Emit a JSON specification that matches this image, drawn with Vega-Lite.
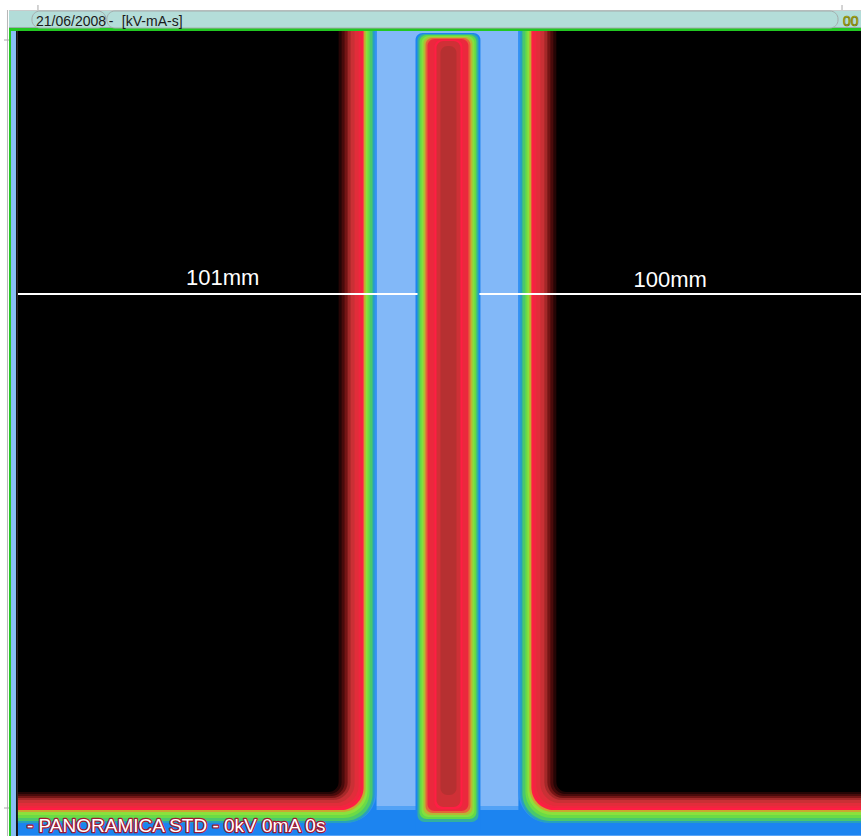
{
"$schema": "https://vega.github.io/schema/vega-lite/v6.json",
"width": 862, "height": 836,
"autosize": {"type": "fit", "contains": "padding"},
"padding": 0,
"background": "#ffffff",
"config": {"view": {"stroke": null}},
"datasets": {
"chrome": [
{"part": "margin", "x1": 7, "x2": 8, "y1": 10, "y2": 836},
{"part": "bar", "x1": 9, "x2": 862, "y1": 10, "y2": 28},
{"part": "barTop", "x1": 9, "x2": 862, "y1": 10, "y2": 11},
{"part": "barBottom", "x1": 9, "x2": 862, "y1": 27, "y2": 28},
{"part": "green", "x1": 9, "x2": 862, "y1": 28, "y2": 31},
{"part": "green", "x1": 9, "x2": 11, "y1": 28, "y2": 836},
{"part": "blue", "x1": 11, "x2": 16, "y1": 31, "y2": 836},
{"part": "dark", "x1": 16, "x2": 18, "y1": 31, "y2": 836}
],
"base": [
{"x1": 18, "x2": 862, "y1": 31, "y2": 836, "v": 0.67},
{"x1": 377, "x2": 519, "y1": 31, "y2": 806, "v": 0.80},
{"x1": 377, "x2": 519, "y1": 806, "y2": 810, "v": 0.74}
],
"outer": [
{"side": "L", "x1": 18, "x2": 377, "y1": 31, "y2": 823, "v": 0.70},
{"side": "L", "x1": 18, "x2": 375, "y1": 31, "y2": 823, "v": 0.63},
{"side": "L", "x1": 18, "x2": 373, "y1": 31, "y2": 821, "v": 0.58},
{"side": "L", "x1": 18, "x2": 370, "y1": 31, "y2": 818, "v": 0.54},
{"side": "L", "x1": 18, "x2": 368, "y1": 31, "y2": 815, "v": 0.50},
{"side": "L", "x1": 18, "x2": 366, "y1": 31, "y2": 812, "v": 0.46},
{"side": "L", "x1": 18, "x2": 364, "y1": 31, "y2": 810, "v": 0.42},
{"side": "L", "x1": 18, "x2": 362, "y1": 31, "y2": 808, "v": 0.39},
{"side": "L", "x1": 18, "x2": 359, "y1": 31, "y2": 806, "v": 0.36},
{"side": "L", "x1": 18, "x2": 355, "y1": 31, "y2": 803, "v": 0.32},
{"side": "L", "x1": 18, "x2": 351, "y1": 31, "y2": 800, "v": 0.26},
{"side": "L", "x1": 18, "x2": 348, "y1": 31, "y2": 798, "v": 0.19},
{"side": "L", "x1": 18, "x2": 345, "y1": 31, "y2": 796, "v": 0.12},
{"side": "L", "x1": 18, "x2": 342, "y1": 31, "y2": 794, "v": 0.06},
{"side": "L", "x1": 18, "x2": 339, "y1": 31, "y2": 792, "v": 0},
{"side": "R", "x1": 519, "x2": 862, "y1": 31, "y2": 823, "v": 0.70},
{"side": "R", "x1": 521, "x2": 862, "y1": 31, "y2": 823, "v": 0.63},
{"side": "R", "x1": 523, "x2": 862, "y1": 31, "y2": 821, "v": 0.58},
{"side": "R", "x1": 526, "x2": 862, "y1": 31, "y2": 818, "v": 0.54},
{"side": "R", "x1": 528, "x2": 862, "y1": 31, "y2": 815, "v": 0.50},
{"side": "R", "x1": 530, "x2": 862, "y1": 31, "y2": 812, "v": 0.46},
{"side": "R", "x1": 532, "x2": 862, "y1": 31, "y2": 810, "v": 0.42},
{"side": "R", "x1": 534, "x2": 862, "y1": 31, "y2": 808, "v": 0.39},
{"side": "R", "x1": 537, "x2": 862, "y1": 31, "y2": 806, "v": 0.36},
{"side": "R", "x1": 541, "x2": 862, "y1": 31, "y2": 803, "v": 0.32},
{"side": "R", "x1": 545, "x2": 862, "y1": 31, "y2": 800, "v": 0.26},
{"side": "R", "x1": 548, "x2": 862, "y1": 31, "y2": 798, "v": 0.19},
{"side": "R", "x1": 551, "x2": 862, "y1": 31, "y2": 796, "v": 0.12},
{"side": "R", "x1": 554, "x2": 862, "y1": 31, "y2": 794, "v": 0.06},
{"side": "R", "x1": 557, "x2": 862, "y1": 31, "y2": 792, "v": 0}
],
"center": [
{"x1": 416, "x2": 481, "y1": 33, "y2": 836, "v": 0.67},
{"x1": 418, "x2": 479, "y1": 34, "y2": 822, "v": 0.61},
{"x1": 420, "x2": 477, "y1": 35, "y2": 819, "v": 0.55},
{"x1": 422, "x2": 475, "y1": 36, "y2": 817, "v": 0.51},
{"x1": 424, "x2": 473, "y1": 37, "y2": 815, "v": 0.47},
{"x1": 426, "x2": 471, "y1": 38, "y2": 813, "v": 0.44},
{"x1": 428, "x2": 469, "y1": 39, "y2": 811, "v": 0.38},
{"x1": 435, "x2": 463, "y1": 40, "y2": 809, "v": 0.42},
{"x1": 437, "x2": 461, "y1": 41, "y2": 807, "v": 0.33},
{"x1": 441, "x2": 457, "y1": 46, "y2": 795, "v": 0.29},
{"x1": 18, "x2": 862, "y1": 835, "y2": 836, "v": 0.75}
]
},
"layer": [
{
"data": {"name": "chrome"},
"mark": {"type": "rect"},
"encoding": {
"x": {"field": "x1", "type": "quantitative", "scale": {"domain": [0, 862], "nice": false, "zero": false}, "axis": null},
"x2": {"field": "x2"},
"y": {"field": "y1", "type": "quantitative", "scale": {"domain": [0, 836], "reverse": true, "nice": false, "zero": false}, "axis": null},
"y2": {"field": "y2"},
"fill": {"field": "part", "type": "nominal", "legend": null,
"scale": {"domain": ["margin", "bar", "barTop", "barBottom", "green", "blue", "dark"],
"range": ["#b8b8b8", "#b2dcd8", "#c8cccc", "#98acaa", "#22c822", "#88bef6", "#141414"]}}
}
},
{
"data": {"values": [
{"x1": 32, "x2": 106, "y1": 11, "y2": 28},
{"x1": 107, "x2": 839, "y1": 11, "y2": 28}
]},
"mark": {"type": "rect", "cornerRadius": 8, "fill": "#b4ddd9", "stroke": "#a4acac", "strokeWidth": 1},
"encoding": {
"x": {"field": "x1", "type": "quantitative", "axis": null},
"x2": {"field": "x2"},
"y": {"field": "y1", "type": "quantitative", "axis": null},
"y2": {"field": "y2"}
}
},
{
"data": {"values": [
{"x1": 4, "x2": 9, "y1": 40, "y2": 40},
{"x1": 4, "x2": 9, "y1": 808, "y2": 808},
{"x1": 38, "x2": 38, "y1": 5, "y2": 10},
{"x1": 843, "x2": 843, "y1": 5, "y2": 10}
]},
"mark": {"type": "rule", "stroke": "#a8a8a8", "strokeWidth": 1},
"encoding": {
"x": {"field": "x1", "type": "quantitative", "axis": null},
"x2": {"field": "x2"},
"y": {"field": "y1", "type": "quantitative", "axis": null},
"y2": {"field": "y2"}
}
},
{
"data": {"name": "base"},
"mark": {"type": "rect"},
"encoding": {
"x": {"field": "x1", "type": "quantitative", "axis": null},
"x2": {"field": "x2"},
"y": {"field": "y1", "type": "quantitative", "axis": null},
"y2": {"field": "y2"},
"color": {"field": "v", "type": "quantitative", "legend": null,
"scale": {"type": "linear", "interpolate": "rgb",
"domain": [0, 0.1, 0.2, 0.28, 0.35, 0.42, 0.46, 0.5, 0.56, 0.62, 0.67, 0.73, 0.8],
"range": ["#000000", "#3c0808", "#7a1616", "#b03030", "#dc3038", "#ff1e44", "#c8a830", "#8ce03c", "#5ad84a", "#2aa8b0", "#1c84f0", "#4a9ef6", "#82b8f8"]}}
}
},
{
"data": {"name": "outer"},
"transform": [{"filter": "datum.side == 'L'"}],
"mark": {"type": "rect", "cornerRadiusBottomRight": {"expr": "10 + 30 * datum.v"}},
"encoding": {
"x": {"field": "x1", "type": "quantitative", "axis": null},
"x2": {"field": "x2"},
"y": {"field": "y1", "type": "quantitative", "axis": null},
"y2": {"field": "y2"},
"color": {"field": "v", "type": "quantitative", "legend": null}
}
},
{
"data": {"name": "outer"},
"transform": [{"filter": "datum.side == 'R'"}],
"mark": {"type": "rect", "cornerRadiusBottomLeft": {"expr": "10 + 30 * datum.v"}},
"encoding": {
"x": {"field": "x1", "type": "quantitative", "axis": null},
"x2": {"field": "x2"},
"y": {"field": "y1", "type": "quantitative", "axis": null},
"y2": {"field": "y2"},
"color": {"field": "v", "type": "quantitative", "legend": null}
}
},
{
"data": {"name": "center"},
"mark": {"type": "rect", "cornerRadius": 7},
"encoding": {
"x": {"field": "x1", "type": "quantitative", "axis": null},
"x2": {"field": "x2"},
"y": {"field": "y1", "type": "quantitative", "axis": null},
"y2": {"field": "y2"},
"color": {"field": "v", "type": "quantitative", "legend": null}
}
},
{
"data": {"values": [
{"x1": 18, "x2": 418, "y": 294},
{"x1": 480, "x2": 862, "y": 294}
]},
"mark": {"type": "rule", "stroke": "#ffffff", "strokeWidth": 2},
"encoding": {
"x": {"field": "x1", "type": "quantitative", "axis": null},
"x2": {"field": "x2"},
"y": {"field": "y", "type": "quantitative", "axis": null}
}
},
{
"data": {"values": [
{"x": 223, "y": 285, "label": "101mm"},
{"x": 671, "y": 287, "label": "100mm"}
]},
"mark": {"type": "text", "font": "Liberation Sans", "fontSize": 22, "fill": "#ffffff", "align": "center", "baseline": "alphabetic"},
"encoding": {
"x": {"field": "x", "type": "quantitative", "axis": null},
"y": {"field": "y", "type": "quantitative", "axis": null},
"text": {"field": "label"}
}
},
{
"data": {"values": [
{"x": 36, "y": 26, "label": "21/06/2008"},
{"x": 109, "y": 26, "label": "-"},
{"x": 122, "y": 26, "label": "[kV-mA-s]"}
]},
"mark": {"type": "text", "font": "Liberation Sans Narrow, Liberation Sans", "fontSize": 14, "fill": "#1a1a1a", "align": "left", "baseline": "alphabetic"},
"encoding": {
"x": {"field": "x", "type": "quantitative", "axis": null},
"y": {"field": "y", "type": "quantitative", "axis": null},
"text": {"field": "label"}
}
},
{
"data": {"values": [
{"x": 844, "y": 26, "label": "00"}
]},
"mark": {"type": "text", "font": "Liberation Sans Narrow, Liberation Sans", "fontSize": 14, "fill": "#f4f400", "stroke": "#6a6a10", "strokeWidth": 0.7, "align": "left", "baseline": "alphabetic"},
"encoding": {
"x": {"field": "x", "type": "quantitative", "axis": null},
"y": {"field": "y", "type": "quantitative", "axis": null},
"text": {"field": "label"}
}
},
{
"data": {"values": [
{"x": 27, "y": 832, "label": "- PANORAMICA STD - 0kV 0mA 0s"}
]},
"mark": {"type": "text", "font": "Liberation Sans", "fontSize": 19, "fill": "#a01830", "stroke": "#a01830", "strokeWidth": 2.5, "strokeJoin": "round", "align": "left", "baseline": "alphabetic"},
"encoding": {
"x": {"field": "x", "type": "quantitative", "axis": null},
"y": {"field": "y", "type": "quantitative", "axis": null},
"text": {"field": "label"}
}
},
{
"data": {"values": [
{"x": 27, "y": 832, "label": "- PANORAMICA STD - 0kV 0mA 0s"}
]},
"mark": {"type": "text", "font": "Liberation Sans", "fontSize": 19, "fill": "#ffffff", "align": "left", "baseline": "alphabetic"},
"encoding": {
"x": {"field": "x", "type": "quantitative", "axis": null},
"y": {"field": "y", "type": "quantitative", "axis": null},
"text": {"field": "label"}
}
}
]
}
